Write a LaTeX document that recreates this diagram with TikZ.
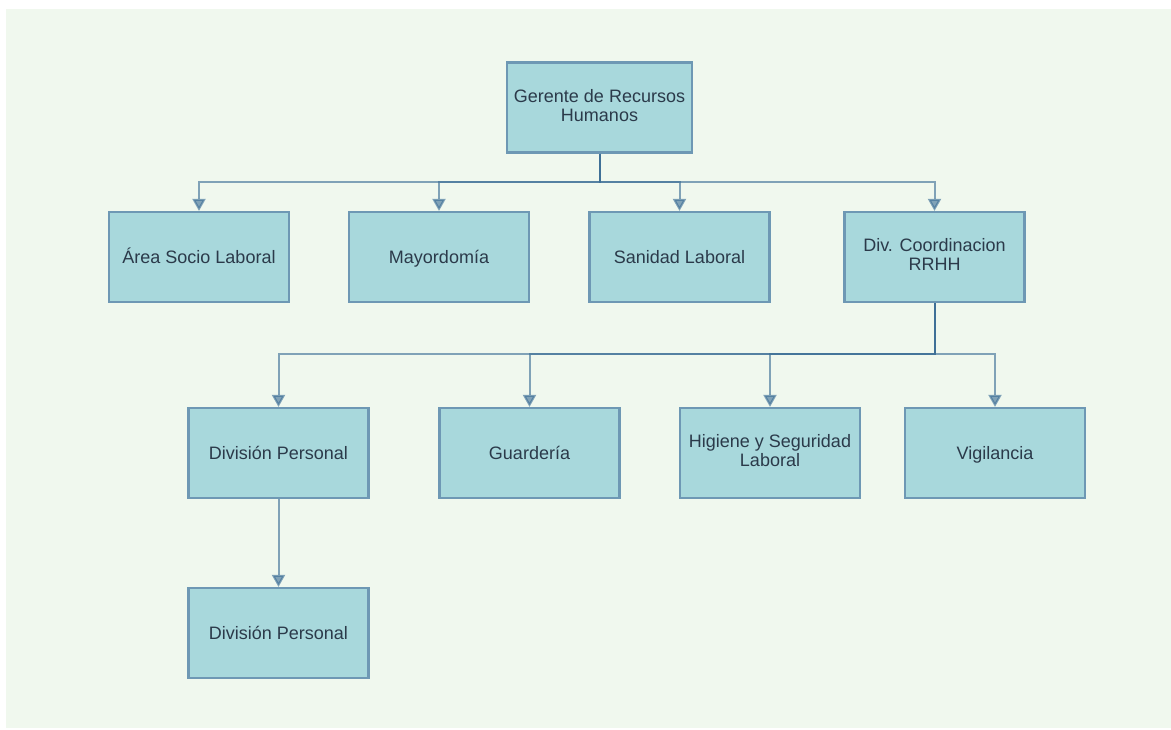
\documentclass[tikz,border=0pt]{standalone}
\usepackage{fontspec}
\setmainfont{Liberation Sans}
\usetikzlibrary{arrows.meta}

\definecolor{boxfill}{HTML}{A8D8DC}
\definecolor{boxline}{HTML}{6E98B4}
\definecolor{linkcol}{HTML}{3C6E96}
\definecolor{paper}{HTML}{F0F8EE}
\definecolor{ink}{HTML}{2B3A4A}

% fixed line height so accented and plain labels sit alike
\newcommand{\labeldepth}{2.2pt}
\newcommand{\labelstrut}{\rule[-\labeldepth]{0pt}{10.6pt}}

\tikzset{
  unit/.style={draw=boxline, line width=1.1pt, fill=boxfill, text=ink,
    minimum width=90pt, minimum height=45pt, align=center,
    font=\fontsize{9}{9.4}\selectfont,
    execute at begin node=\labelstrut, execute at end node=\labelstrut},
  twoline/.style={execute at begin node=\def\labeldepth{0pt}},
  link/.style={draw=linkcol, line width=1pt, opacity=0.62,
    -{Triangle[length=6pt,width=6.5pt]}}
}

\begin{document}
\begin{tikzpicture} [x=0.5pt, y=-0.5pt]
 % page and background
 \useasboundingbox (0,0) rectangle (1171,729);
 \fill[white] (0,0) rectangle (1171,729);
 \fill[paper] (6,9) rectangle (1171,728);

 % first level
 \node [unit, twoline] (gerente) at (599.5,107.5) {Gerente de Recursos\\Humanos};
 \node [unit] (area) at (199,257) {Área Socio Laboral};
 \node [unit] (mayor) at (439,257) {Mayordomía};
 \node [unit] (sanidad) at (679.5,257) {Sanidad Laboral};
 \node [unit, twoline] (divcoord) at (934.5,257) {Div. Coordinacion\\RRHH};

 % second level
 \node [unit] (divpers) at (278.5,453) {División Personal};
 \node [unit] (guard) at (529.5,453) {Guardería};
 \node [unit, twoline] (higiene) at (770,453) {Higiene y Seguridad\\Laboral};
 \node [unit] (vigil) at (995,453) {Vigilancia};

 % third level
 \node [unit] (divpers2) at (278.5,633) {División Personal};

 % bus lines
 \coordinate (bus1) at (599.5,182);
 \coordinate (bus2) at (934.5,354);

 \foreach \c in {area,mayor,sanidad,divcoord}
   \draw [link] (gerente.south) -- (bus1) -| (\c.north);
 \foreach \c in {divpers,guard,higiene,vigil}
   \draw [link] (divcoord.south) -- (bus2) -| (\c.north);
 \draw [link] (divpers.south) -- (divpers2.north);
\end{tikzpicture}
\end{document}
